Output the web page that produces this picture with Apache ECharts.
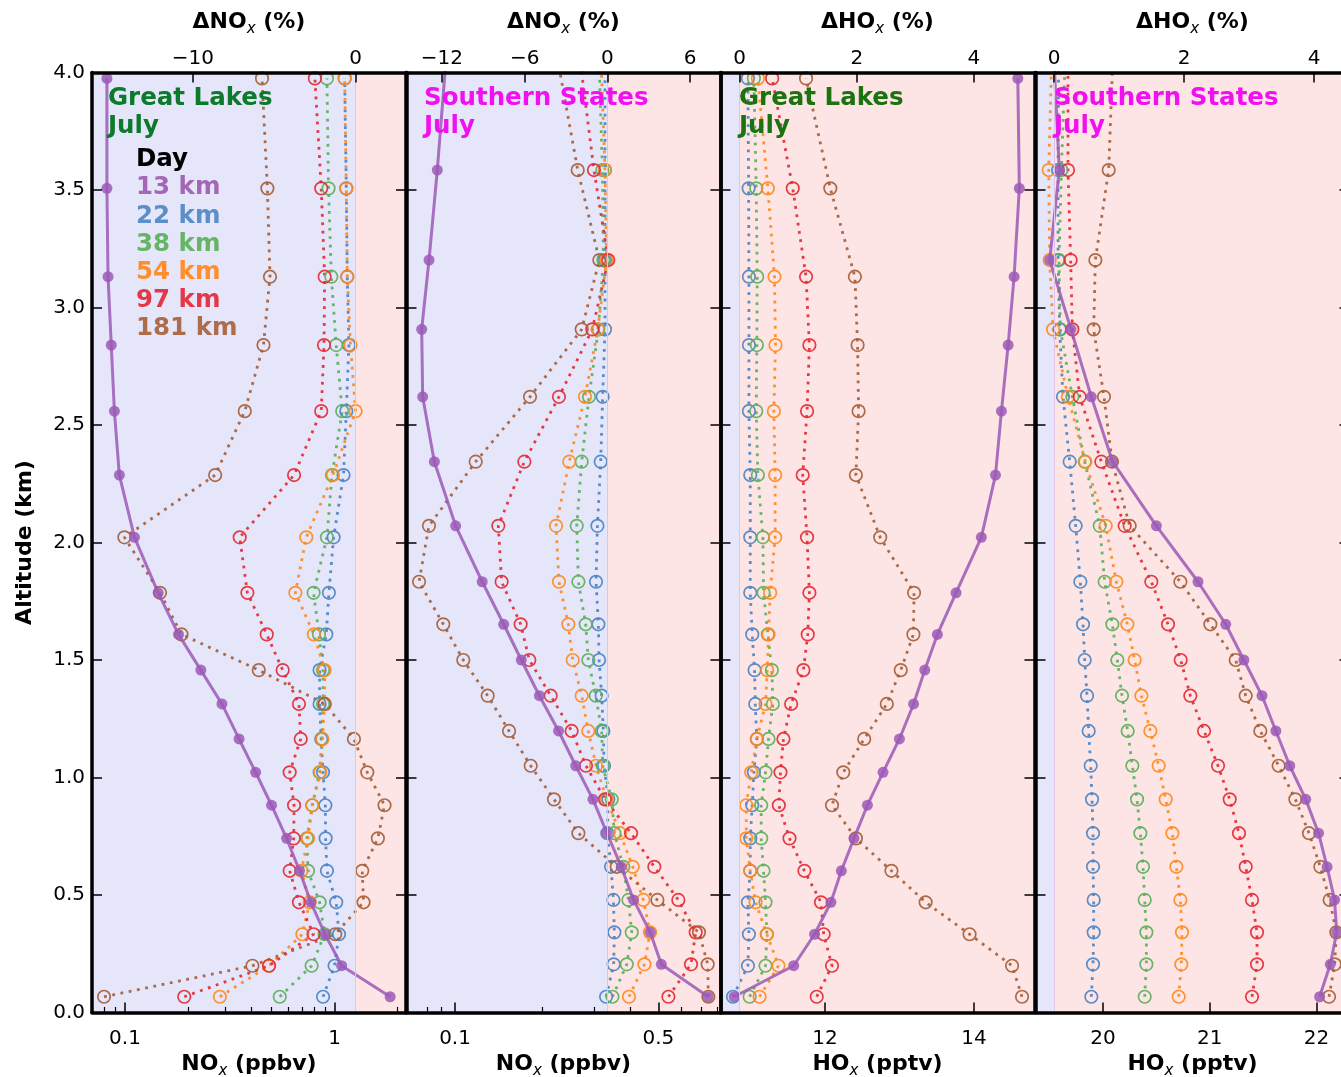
<!DOCTYPE html>
<html><head><meta charset="utf-8">
<script src="https://cdn.jsdelivr.net/npm/echarts@6/dist/echarts.min.js"></script>
<style>html,body{margin:0;padding:0;background:#fff}#c{width:1341px;height:1077px}</style>
</head><body><div id="c"></div>
<script>
// ---------------- DATA ----------------
const GL_ALT = [0.067, 0.199, 0.333, 0.469, 0.603, 0.741, 0.882, 1.022, 1.164, 1.313, 1.457, 1.609, 1.786, 2.022, 2.287, 2.559, 2.840, 3.131, 3.507, 3.975];
const SS_ALT = [0.067, 0.205, 0.341, 0.479, 0.620, 0.763, 0.907, 1.050, 1.198, 1.348, 1.500, 1.652, 1.833, 2.071, 2.344, 2.620, 2.907, 3.202, 3.585, 4.055];

const GL_NOX_13 = [1.84, 1.08, 0.90, 0.77, 0.68, 0.59, 0.50, 0.42, 0.35, 0.29, 0.23, 0.18, 0.144, 0.111, 0.094, 0.089, 0.086, 0.083, 0.082, 0.082];
const GL_DNOX_22 = [-2.00, -1.29, -1.02, -1.19, -1.76, -1.84, -1.86, -2.00, -2.11, -2.21, -2.21, -1.80, -1.64, -1.35, -0.74, -0.57, -0.41, -0.51, -0.57, -0.67];
const GL_DNOX_38 = [-4.66, -2.70, -1.90, -2.21, -2.92, -2.99, -2.66, -2.21, -2.07, -2.00, -2.00, -2.25, -2.58, -1.76, -1.45, -0.82, -1.19, -1.49, -1.66, -1.76];
const GL_DNOX_54 = [-8.34, -5.32, -3.27, -2.82, -3.33, -2.92, -2.66, -2.17, -2.04, -1.90, -1.90, -2.56, -3.70, -3.03, -1.39, 0.00, -0.31, -0.51, -0.57, -0.67];
const GL_DNOX_97 = [-10.53, -5.32, -2.58, -3.48, -4.05, -3.80, -3.78, -4.05, -3.37, -3.48, -4.48, -5.46, -6.65, -7.12, -3.78, -2.11, -1.94, -1.90, -2.11, -2.50];
const GL_DNOX_181 = [-15.46, -6.34, -1.25, 0.49, 0.41, 1.37, 1.78, 0.72, -0.10, -1.90, -5.95, -10.70, -12.02, -14.21, -8.63, -6.81, -5.66, -5.26, -5.42, -5.75];

const SS_NOX_13 = [0.742, 0.512, 0.469, 0.411, 0.373, 0.333, 0.298, 0.260, 0.227, 0.195, 0.169, 0.147, 0.124, 0.1005, 0.0849, 0.0774, 0.0768, 0.0814, 0.0869, 0.0931];
const SS_DNOX_22 = [-0.09, 0.46, 0.51, 0.44, 0.27, 0.00, 0.07, -0.24, -0.29, -0.41, -0.60, -0.65, -0.82, -0.72, -0.48, -0.34, -0.17, -0.17, -0.17, -0.17];
const SS_DNOX_38 = [0.37, 1.41, 1.77, 1.53, 1.16, 0.51, 0.32, -0.34, -0.41, -0.84, -1.38, -1.57, -2.10, -2.22, -1.86, -1.33, -0.65, -0.29, -0.36, -0.60];
const SS_DNOX_54 = [1.57, 2.69, 3.10, 2.61, 1.84, 0.92, -0.05, -0.82, -1.38, -1.86, -2.51, -2.83, -3.51, -3.72, -2.76, -1.62, -0.70, -0.05, -0.17, -0.46];
const SS_DNOX_97 = [4.43, 6.07, 6.41, 5.15, 3.41, 1.72, -0.17, -1.55, -2.59, -4.11, -5.66, -6.29, -7.67, -7.91, -6.02, -3.51, -1.09, 0.07, -0.97, -1.98];
const SS_DNOX_181 = [7.33, 7.28, 6.65, 3.63, 0.68, -2.10, -3.87, -5.56, -7.13, -8.68, -10.45, -11.90, -13.66, -12.94, -9.55, -5.61, -1.86, -0.58, -2.15, -3.60];

const GL_HOX_13 = [10.78, 11.58, 11.86, 12.08, 12.22, 12.39, 12.57, 12.78, 13.00, 13.19, 13.34, 13.51, 13.76, 14.10, 14.29, 14.37, 14.46, 14.54, 14.61, 14.59];
const GL_DHOX_22 = [-0.114, 0.141, 0.158, 0.141, 0.181, 0.181, 0.215, 0.243, 0.294, 0.266, 0.255, 0.215, 0.181, 0.181, 0.181, 0.158, 0.158, 0.158, 0.153, 0.141];
const GL_DHOX_38 = [0.170, 0.442, 0.465, 0.442, 0.408, 0.368, 0.368, 0.442, 0.493, 0.567, 0.550, 0.482, 0.408, 0.397, 0.311, 0.283, 0.294, 0.300, 0.283, 0.243];
const GL_DHOX_54 = [0.340, 0.663, 0.465, 0.272, 0.181, 0.113, 0.113, 0.198, 0.294, 0.442, 0.470, 0.493, 0.521, 0.606, 0.606, 0.584, 0.612, 0.595, 0.482, 0.311];
const GL_DHOX_97 = [1.316, 1.577, 1.435, 1.389, 1.106, 0.851, 0.669, 0.697, 0.748, 0.879, 1.089, 1.163, 1.191, 1.151, 1.077, 1.151, 1.191, 1.134, 0.907, 0.555];
const GL_DHOX_181 = [4.822, 4.652, 3.926, 3.176, 2.592, 1.985, 1.577, 1.770, 2.127, 2.513, 2.751, 2.967, 2.978, 2.400, 1.985, 2.031, 2.014, 1.968, 1.548, 1.134];

const SS_HOX_13 = [22.03, 22.13, 22.19, 22.17, 22.10, 22.02, 21.90, 21.75, 21.62, 21.49, 21.32, 21.15, 20.89, 20.50, 20.09, 19.89, 19.70, 19.50, 19.59, 19.54];
const SS_DHOX_22 = [0.574, 0.600, 0.610, 0.610, 0.600, 0.600, 0.585, 0.564, 0.533, 0.508, 0.472, 0.446, 0.405, 0.333, 0.241, 0.138, 0.087, 0.062, 0.062, 0.070];
const SS_DHOX_38 = [1.395, 1.421, 1.421, 1.395, 1.369, 1.328, 1.277, 1.205, 1.133, 1.046, 0.974, 0.897, 0.779, 0.703, 0.472, 0.282, 0.097, 0.077, 0.113, 0.171];
const SS_DHOX_54 = [1.918, 1.959, 1.969, 1.944, 1.882, 1.821, 1.718, 1.610, 1.482, 1.344, 1.241, 1.128, 0.959, 0.795, 0.482, 0.215, -0.015, -0.067, -0.082, -0.036];
const SS_DHOX_97 = [3.046, 3.123, 3.123, 3.046, 2.949, 2.846, 2.703, 2.523, 2.308, 2.097, 1.949, 1.754, 1.497, 1.087, 0.728, 0.395, 0.282, 0.256, 0.215, 0.215];
const SS_DHOX_181 = [4.231, 4.318, 4.344, 4.241, 4.097, 3.923, 3.713, 3.456, 3.174, 2.949, 2.795, 2.405, 1.944, 1.164, 0.892, 0.769, 0.610, 0.636, 0.841, 0.904];

const LEGEND_LABELS = ['13 km', '22 km', '38 km', '54 km', '97 km', '181 km'];
const Y_TICKS = [0, 0.5, 1, 1.5, 2, 2.5, 3, 3.5, 4];
const P1_BOTTOM_TICKS = [0.1, 1];
const P1_BOTTOM_MINOR = [0.08, 0.09, 0.2, 0.3, 0.4, 0.5, 0.6, 0.7, 0.8, 0.9, 2];
const P1_TOP_TICKS = [-10, 0];
const P2_BOTTOM_TICKS = [0.1, 0.5];
const P2_BOTTOM_MINOR = [0.08, 0.09, 0.2, 0.3, 0.4, 0.6, 0.7, 0.8];
const P2_TOP_TICKS = [-12, -6, 0, 6];
const P3_BOTTOM_TICKS = [12, 14];
const P3_TOP_TICKS = [0, 2, 4];
const P4_BOTTOM_TICKS = [20, 21, 22];
const P4_TOP_TICKS = [0, 2, 4];

// ---------------- STYLE / LAYOUT ----------------
const FONT = 'DejaVu Sans';
const COLORS = ['#9b59b6', '#4c84c4', '#5cb05c', '#ff8a1f', '#e32b36', '#a55f3a'];
const TEXT_COLORS = ['#a467b5', '#5a8fc8', '#66b566', '#ff8f2e', '#e4384a', '#ad6c4c'];

const panels = [
  {left: 92, log: true, bMin: 0.0696, bMax: 2.19, tMin: -16.2, tMax: 3.1,
   bTicks: P1_BOTTOM_TICKS, bMinor: P1_BOTTOM_MINOR, tTicks: P1_TOP_TICKS,
   bName: ['NO', '(ppbv)'], tName: ['ΔNO', '(%)'], alt: GL_ALT, abs: GL_NOX_13,
   rel: [GL_DNOX_22, GL_DNOX_38, GL_DNOX_54, GL_DNOX_97, GL_DNOX_181]},
  {left: 406.5, log: true, bMin: 0.0681, bMax: 0.818, tMin: -14.57, tMax: 8.21,
   bTicks: P2_BOTTOM_TICKS, bMinor: P2_BOTTOM_MINOR, tTicks: P2_TOP_TICKS,
   bName: ['NO', '(ppbv)'], tName: ['ΔNO', '(%)'], alt: SS_ALT, abs: SS_NOX_13,
   rel: [SS_DNOX_22, SS_DNOX_38, SS_DNOX_54, SS_DNOX_97, SS_DNOX_181]},
  {left: 720.5, log: false, bMin: 10.597, bMax: 14.814, tMin: -0.327, tMax: 5.035,
   bTicks: P3_BOTTOM_TICKS, tTicks: P3_TOP_TICKS,
   bName: ['HO', '(pptv)'], tName: ['ΔHO', '(%)'], alt: GL_ALT, abs: GL_HOX_13,
   rel: [GL_DHOX_22, GL_DHOX_38, GL_DHOX_54, GL_DHOX_97, GL_DHOX_181]},
  {left: 1035.5, log: false, bMin: 19.367, bMax: 22.31, tMin: -0.285, tMax: 4.546,
   bTicks: P4_BOTTOM_TICKS, tTicks: P4_TOP_TICKS,
   bName: ['HO', '(pptv)'], tName: ['ΔHO', '(%)'], alt: SS_ALT, abs: SS_HOX_13,
   rel: [SS_DHOX_22, SS_DHOX_38, SS_DHOX_54, SS_DHOX_97, SS_DHOX_181]}
];

const GTOP = 72.5, GH = 940, GW = 314;
const tickLabel = {fontFamily: FONT, fontSize: 20, color: '#000'};
const frameLine = {show: true, onZero: false, lineStyle: {color: '#000', width: 3.5}};
const tickStyle = {color: '#000', width: 1.5};
const nameRich = {
  a: {fontFamily: FONT, fontSize: 22, fontWeight: 'bold', color: '#000', lineHeight: 28},
  s: {fontFamily: FONT, fontSize: 15, fontStyle: 'italic', color: '#000', lineHeight: 14, verticalAlign: 'bottom'}
};
const nm = arr => `{a|${arr[0]}}{s|x}{a| ${arr[1]}}`;
const minus = v => String(v).replace('-', '\u2212');
const fmtLog = v => String(Number(Math.pow(10, v).toPrecision(2)));
const pts = (vals, alts) => vals.map((v, i) => [v, alts[i]]);

const grid = [], xAxis = [], yAxis = [], series = [];

panels.forEach((p, gi) => {
  grid.push({left: p.left, top: GTOP, width: GW, height: GH, outerBoundsMode: 'none', containLabel: false});
  const bottomName = {name: nm(p.bName), nameLocation: 'middle', nameGap: 33, nameTextStyle: {rich: nameRich}};
  let bIdx;
  if (p.log) {
    bIdx = xAxis.length;
    xAxis.push({type: 'log', logBase: 10, gridIndex: gi, min: p.bMin, max: p.bMax, show: false,
      axisLine: {onZero: false}});
    const lv = p.bTicks.map(Math.log10);
    xAxis.push(Object.assign({type: 'value', gridIndex: gi, position: 'bottom', z: 10,
      min: Math.log10(p.bMin), max: Math.log10(p.bMax),
      axisLine: frameLine,
      axisTick: {show: true, inside: true, length: 10, lineStyle: tickStyle, customValues: lv},
      axisLabel: Object.assign({show: true, margin: 16, customValues: lv, formatter: fmtLog}, tickLabel),
      splitLine: {show: false}}, bottomName));
    const mv = p.bMinor.map(Math.log10);
    xAxis.push({type: 'value', gridIndex: gi, position: 'bottom', z: 10,
      min: Math.log10(p.bMin), max: Math.log10(p.bMax),
      axisLine: {show: false, onZero: false},
      axisTick: {show: true, inside: true, length: 5.5, lineStyle: {color: '#000', width: 1.2}, customValues: mv},
      axisLabel: {show: false, customValues: mv}, splitLine: {show: false}});
  } else {
    bIdx = xAxis.length;
    xAxis.push(Object.assign({type: 'value', gridIndex: gi, position: 'bottom', z: 10,
      min: p.bMin, max: p.bMax,
      axisLine: frameLine,
      axisTick: {show: true, inside: true, length: 10, lineStyle: tickStyle, customValues: p.bTicks},
      axisLabel: Object.assign({show: true, margin: 16, customValues: p.bTicks, formatter: v => String(v)}, tickLabel),
      splitLine: {show: false}}, bottomName));
  }
  const tIdx = xAxis.length;
  xAxis.push({type: 'value', gridIndex: gi, position: 'top', z: 10,
    min: p.tMin, max: p.tMax,
    axisLine: frameLine,
    axisTick: {show: true, inside: true, length: 10, lineStyle: tickStyle, customValues: p.tTicks},
    axisLabel: Object.assign({show: true, margin: 4, customValues: p.tTicks, formatter: minus}, tickLabel),
    splitLine: {show: false},
    name: nm(p.tName), nameLocation: 'middle', nameGap: 36, nameTextStyle: {rich: nameRich}});
  const yL = yAxis.length;
  yAxis.push({type: 'value', gridIndex: gi, position: 'left', z: 10, min: 0, max: 4,
    axisLine: frameLine,
    axisTick: {show: true, inside: true, length: 10, lineStyle: tickStyle, customValues: Y_TICKS},
    axisLabel: Object.assign({show: gi === 0, margin: 7, customValues: Y_TICKS, formatter: v => v.toFixed(1)}, tickLabel),
    splitLine: {show: false},
    name: gi === 0 ? 'Altitude (km)' : '', nameLocation: 'middle', nameGap: 56,
    nameTextStyle: {fontFamily: FONT, fontSize: 22, fontWeight: 'bold', color: '#000'}});
  yAxis.push({type: 'value', gridIndex: gi, position: 'right', z: 10, min: 0, max: 4,
    axisLine: frameLine,
    axisTick: {show: true, inside: true, length: 10, lineStyle: tickStyle, customValues: Y_TICKS},
    axisLabel: {show: false}, splitLine: {show: false}});

  // background shading (negative / positive change)
  series.push({type: 'line', xAxisIndex: tIdx, yAxisIndex: yL, data: [], z: 1, silent: true,
    markArea: {silent: true, data: [
      [{xAxis: p.tMin, yAxis: 0, itemStyle: {color: '#e6e6fa'}}, {xAxis: 0, yAxis: 4}],
      [{xAxis: 0, yAxis: 0, itemStyle: {color: '#fde5e5'}}, {xAxis: p.tMax, yAxis: 4}]
    ]},
    markLine: {silent: true, symbol: 'none', label: {show: false},
      lineStyle: {color: '#e2c2e6', width: 1, type: 'solid'}, data: [{xAxis: 0}]}
  });

  // relative-change series (top axis)
  p.rel.forEach((vals, k) => {
    const c = COLORS[k + 1];
    series.push({type: 'line', name: LEGEND_LABELS[k + 1], xAxisIndex: tIdx, yAxisIndex: yL,
      data: pts(vals, p.alt), z: 3, clip: true, symbol: 'circle', symbolSize: 12.5,
      lineStyle: {color: c, width: 2.8, type: [2.8, 5.6], cap: 'butt', opacity: 0.92},
      itemStyle: {color: 'rgba(255,255,255,0)', borderColor: c, borderWidth: 1.7, opacity: 0.92},
      emphasis: {disabled: true}});
  });

  // absolute 13 km series (bottom axis)
  series.push({type: 'line', name: LEGEND_LABELS[0], xAxisIndex: bIdx, yAxisIndex: yL,
    data: pts(p.abs, p.alt), z: 4, clip: true, symbol: 'circle', symbolSize: 11,
    lineStyle: {color: COLORS[0], width: 3, opacity: 0.85},
    itemStyle: {color: COLORS[0], opacity: 0.85}, emphasis: {disabled: true}});
});

// ---------------- TEXT ----------------
const graphic = [];
const addText = (x, y, text, color) => graphic.push({type: 'text', x: x, y: y, z: 100, silent: true,
  style: {text: text, fill: color, font: `bold 24.5px "${FONT}"`, textVerticalAlign: 'middle', verticalAlign: 'middle', textAlign: 'left', align: 'left'}});
const REGIONS = [['Great Lakes', '#0b7a2b', 108], ['Southern States', '#f010f0', 424], ['Great Lakes', '#1b720f', 739], ['Southern States', '#f010f0', 1054]];
REGIONS.forEach(r => { addText(r[2], 99, r[0], r[1]); addText(r[2], 127, 'July', r[1]); });
addText(136, 160, 'Day', '#000');
LEGEND_LABELS.forEach((t, i) => addText(136, 188 + i * 28.2, t, TEXT_COLORS[i]));

const chart = echarts.init(document.getElementById('c'), null, {renderer: 'canvas'});
chart.setOption({animation: false, backgroundColor: '#fff', grid, xAxis, yAxis, series, graphic});
</script></body></html>
